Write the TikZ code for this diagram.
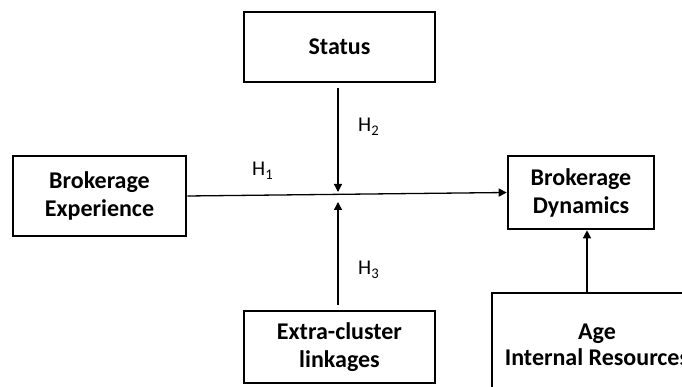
\documentclass[tikz,border=0pt]{standalone}
\usepackage{fontspec}
\setmainfont{Carlito}
\usetikzlibrary{arrows.meta}

\tikzset{
  box/.style={draw, line width=2.6pt, align=center, font=\bfseries\fontsize{24}{28}\selectfont, inner sep=0pt},
  link/.style={line width=1.3pt, -{Triangle[length=8pt,width=8pt]}},
  hyp/.style={anchor=base west, font=\fontsize{21}{24}\selectfont, inner sep=0pt}
}

\begin{document}
\begin{tikzpicture}[x=1pt,y=1pt]
  \useasboundingbox (0,0) rectangle (682,387);
  \clip (0,0) rectangle (682,387);
  \node[box, minimum width=191pt, minimum height=70pt] (status) at (339.5,340) {Status};
  \node[box, minimum width=173pt, minimum height=80pt] (exp) at (99.5,191) {Brokerage\\Experience};
  \node[box, minimum width=146pt, minimum height=73pt] (dyn) at (581,194.5) {Brokerage\\Dynamics};
  \node[box, minimum width=191pt, minimum height=72pt] (extra) at (339.5,40) {Extra-cluster\\linkages};
  \node[box, minimum width=210pt, minimum height=104pt] (age) at (597,42) {Age\\[-2pt]Internal Resources};
  \coordinate (top) at (338,195);
  \coordinate (bot) at (338,185);
  \coordinate (dynin) at ([xshift=6pt]dyn.south);
  \draw[link] (exp.east) -- (dyn.west);
  \draw[link, shorten <=5pt] (status.south -| top) -- (top);
  \draw[link, shorten <=5pt] (extra.north -| bot) -- (bot);
  \draw[link] (age.north -| dynin) -- (dynin);
  \node[hyp] (h1) at (252,211) {H\textsubscript{1}};
  \node[hyp] (h2) at (358,255) {H\textsubscript{2}};
  \node[hyp] (h3) at (358,112) {H\textsubscript{3}};
\end{tikzpicture}
\end{document}
